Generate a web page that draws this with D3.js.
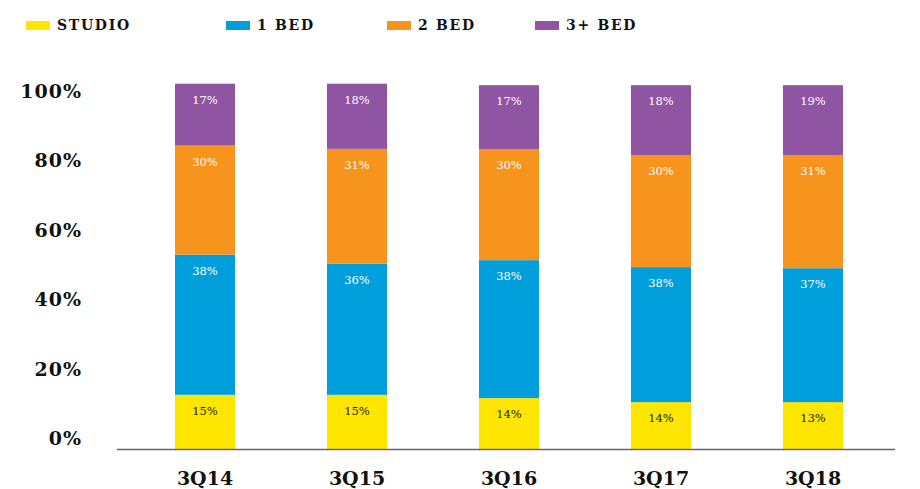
<!DOCTYPE html>
<html>
<head>
<meta charset="utf-8">
<script src="https://cdn.jsdelivr.net/npm/d3@7"></script>
<style>
  body { margin: 0; background: #fff; }
  text { font-family: "DejaVu Serif", serif; }
</style>
</head>
<body>
<svg id="chart" width="920" height="489"></svg>
<script>
// datos del grafico (alturas estimadas de las barras y etiquetas impresas)
const quarters = ["3Q14", "3Q15", "3Q16", "3Q17", "3Q18"];
const seriesNames = ["STUDIO", "1 BED", "2 BED", "3+ BED"];
const studio = [14.8, 14.8, 13.9, 12.8, 12.8];
const oneBed = [38.3, 35.8, 37.7, 36.9, 36.6];
const twoBed = [29.8, 31.4, 30.3, 30.6, 30.9];
const threeBed = [16.9, 17.8, 17.5, 19.1, 19.1];
const studioLabels = ["15%", "15%", "14%", "14%", "13%"];
const oneBedLabels = ["38%", "36%", "38%", "38%", "37%"];
const twoBedLabels = ["30%", "31%", "30%", "30%", "31%"];
const threeBedLabels = ["17%", "18%", "17%", "18%", "19%"];
const yTicks = [0, 20, 40, 60, 80, 100];

const colors = ["#FFE600", "#009FDB", "#F7941E", "#9055A2"];
const labelColors = ["#222", "#fff", "#fff", "#fff"];
const allLabels = [studioLabels, oneBedLabels, twoBedLabels, threeBedLabels];

const svg = d3.select("#chart");

// tabla para el stack
const table = quarters.map((q, i) => ({
    quarter: q,
    "STUDIO": studio[i],
    "1 BED": oneBed[i],
    "2 BED": twoBed[i],
    "3+ BED": threeBed[i]
}));
const stacked = d3.stack().keys(seriesNames)(table);

const x = d3.scaleBand()
    .domain(quarters)
    .range([129, 889])
    .paddingInner(0.605)
    .paddingOuter(0.3025);

const y = d3.scaleLinear().domain([0, 100]).range([449, 83]);
// las etiquetas del eje estan algo desplazadas respecto a las barras
const yLabel = d3.scaleLinear().domain([0, 100]).range([438, 91]);

// barras
const layers = svg.append("g")
    .selectAll("g")
    .data(stacked)
    .enter()
    .append("g")
    .attr("fill", (d, i) => colors[i]);

layers.selectAll("rect")
    .data(d => d)
    .enter()
    .append("rect")
    .attr("x", d => x(d.data.quarter))
    .attr("y", d => y(d[1]))
    .attr("width", x.bandwidth())
    .attr("height", d => y(d[0]) - y(d[1]));

// etiquetas de porcentaje dentro de cada segmento
layers.selectAll("text")
    .data((d, i) => d.map((v, j) => ({v: v, i: i, j: j})))
    .enter()
    .append("text")
    .attr("x", d => x(d.v.data.quarter) + x.bandwidth() / 2)
    .attr("y", d => y(d.v[1]) + 20)
    .attr("text-anchor", "middle")
    .style("font-size", "11.5px")
    .style("fill", d => labelColors[d.i])
    .text(d => allLabels[d.i][d.j]);

// linea base
svg.append("line")
    .attr("x1", 117)
    .attr("x2", 895)
    .attr("y1", 449.5)
    .attr("y2", 449.5)
    .attr("stroke", "#666")
    .attr("stroke-width", 1.5);

// eje y (solo texto)
svg.append("g")
    .selectAll("text")
    .data(yTicks)
    .enter()
    .append("text")
    .attr("x", 82)
    .attr("y", d => yLabel(d) + 7)
    .attr("text-anchor", "end")
    .style("font-size", "19px")
    .style("font-weight", "bold")
    .style("letter-spacing", "1px")
    .style("fill", "#111")
    .text(d => d + "%");

// eje x
svg.append("g")
    .selectAll("text")
    .data(quarters)
    .enter()
    .append("text")
    .attr("x", d => x(d) + x.bandwidth() / 2)
    .attr("y", 485)
    .attr("text-anchor", "middle")
    .style("font-size", "19px")
    .style("font-weight", "bold")
    .style("fill", "#111")
    .text(d => d);

// leyenda
const legendX = [26, 226, 387, 535];
const legend = svg.append("g")
    .selectAll("g")
    .data(seriesNames)
    .enter()
    .append("g")
    .attr("transform", (d, i) => "translate(" + legendX[i] + ",21)");

legend.append("rect")
    .attr("width", 24)
    .attr("height", 9)
    .attr("fill", (d, i) => colors[i]);

legend.append("text")
    .attr("x", 31)
    .attr("y", 8.5)
    .style("font-size", "14px")
    .style("font-weight", "bold")
    .style("letter-spacing", "1.7px")
    .style("fill", "#111")
    .text(d => d);
</script>
</body>
</html>
